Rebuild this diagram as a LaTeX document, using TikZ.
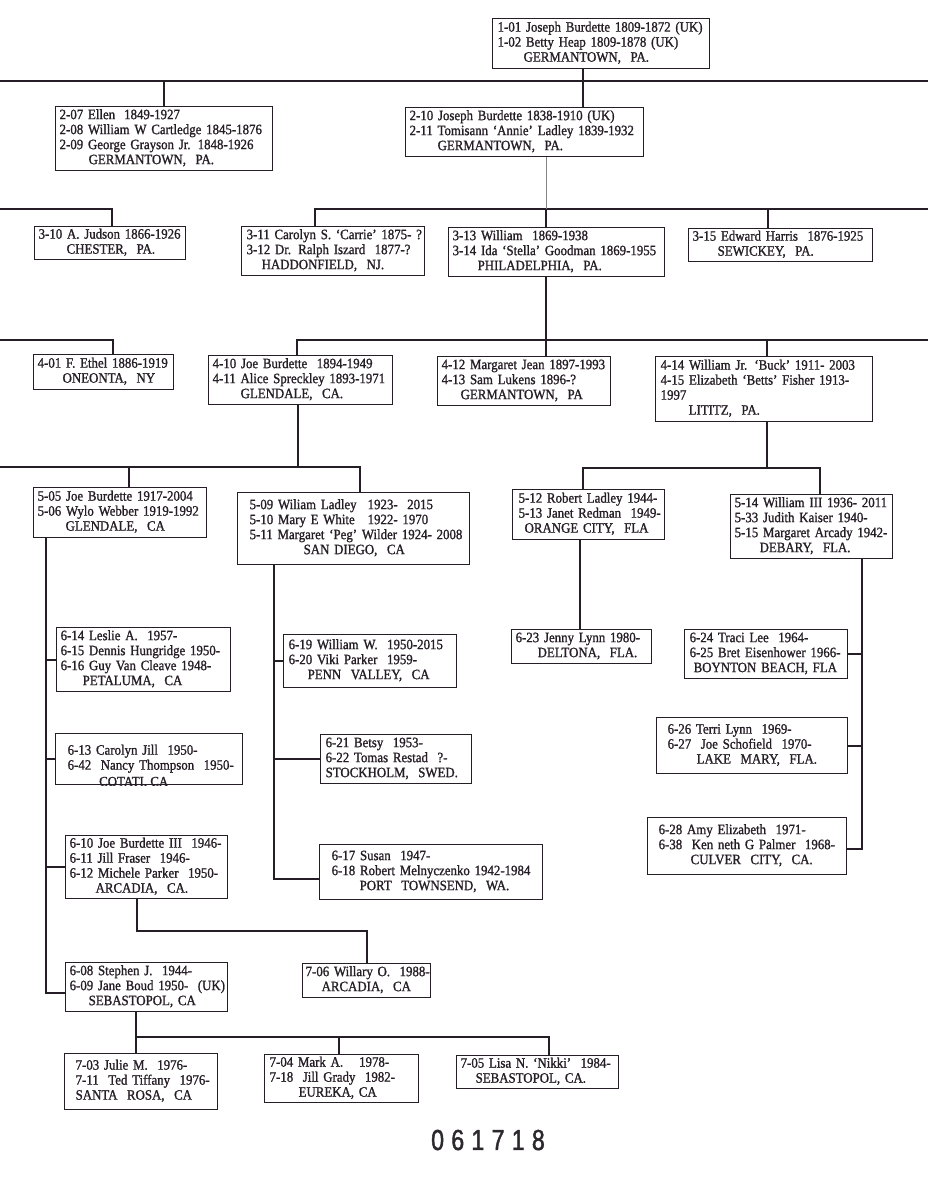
\documentclass[tikz,border=0pt]{standalone}
\usepackage{fontspec}
\setmainfont{Liberation Serif}[FakeStretch=0.9,FakeBold=1.2]
\newfontfamily\stampfont{Liberation Sans}[FakeStretch=0.8,LetterSpace=25,FakeBold=1.5]
\usepackage{xcolor}
\definecolor{ink}{RGB}{38,30,38}
\definecolor{stampink}{RGB}{45,40,45}
\newcommand{\kinrows}[1]{\begin{tabular}{@{}l@{}}#1\end{tabular}}
\tikzset{
  kin/.style 2 args={draw=ink, line width=1.3pt, anchor=north west, align=left,
    inner xsep=4pt, inner ysep=0pt, text width=#1, minimum height=#2,
    text=ink, font=\fontsize{14.3}{15}\selectfont},
  link/.style={draw=ink, line width=1.7pt},
  stamp/.style={text=stampink, font=\stampfont\fontsize{29}{29}\selectfont, inner sep=0pt},
}

\begin{document}
\begin{tikzpicture}[x=1pt, y=-1pt]
    \useasboundingbox (0,0) rectangle (928,1200);

    \node [kin={207pt}{50pt}, inner xsep=5pt] (p101) at (492,18)
      {\kinrows{1-01 Joseph Burdette 1809-1872 (UK)\\ 1-02 Betty Heap 1809-1878 (UK)\\ \hspace*{26pt}GERMANTOWN,~ PA.}};
    \node [kin={209pt}{64pt}] (p207) at (55,106)
      {\kinrows{2-07 Ellen\hspace{9pt}1849-1927\\ 2-08 William W Cartledge 1845-1876\\ 2-09 George Grayson Jr. 1848-1926\\ \hspace*{29pt}GERMANTOWN,~ PA.}};
    \node [kin={230pt}{49pt}] (p210) at (405,107)
      {\kinrows{2-10 Joseph Burdette 1838-1910 (UK)\\ 2-11 Tomisann `Annie' Ladley 1839-1932\\ \hspace*{28pt}GERMANTOWN,~ PA.}};

    \node [kin={143pt}{33pt}] (p310) at (34,226)
      {\kinrows{3-10 A. Judson 1866-1926\\ \hspace*{28pt}CHESTER,~ PA.}};
    \node [kin={173pt}{49pt}, inner xsep=5pt] (p311) at (241,226)
      {\kinrows{3-11 Carolyn S. `Carrie' 1875- ?\\ 3-12 Dr. Ralph Iszard~ 1877-?\\ \hspace*{15pt}HADDONFIELD,~ NJ.}};
    \node [kin={208pt}{49pt}] (p313) at (448,227)
      {\kinrows{3-13 William~ 1869-1938\\ 3-14 Ida `Stella' Goodman 1869-1955\\ \hspace*{25pt}PHILADELPHIA,~ PA.}};
    \node [kin={176pt}{33pt}] (p315) at (688,228)
      {\kinrows{3-15 Edward Harris~ 1876-1925\\ \hspace*{25pt}SEWICKEY,~ PA.}};

    \node [kin={132pt}{35pt}] (p401) at (33,354)
      {\kinrows{4-01 F. Ethel 1886-1919\\ \hspace*{25pt}ONEONTA,~ NY}};
    \node [kin={176pt}{49pt}] (p410) at (208,355)
      {\kinrows{4-10 Joe Burdette~ 1894-1949\\ 4-11 Alice Spreckley 1893-1971\\ \hspace*{28pt}GLENDALE,~ CA.}};
    \node [kin={165pt}{49pt}] (p412) at (437,356)
      {\kinrows{4-12 Margaret Jean 1897-1993\\ 4-13 Sam Lukens 1896-?\\ \hspace*{19pt}GERMANTOWN,~ PA}};
    \node [kin={207pt}{65pt}, inner xsep=5pt] (p414) at (655,356)
      {\kinrows{4-14 William Jr. `Buck' 1911- 2003\\ 4-15 Elizabeth `Betts' Fisher 1913-\\ 1997\\ \hspace*{28pt}LITITZ,~ PA.}};

    \node [kin={165pt}{50pt}] (p505) at (33,487)
      {\kinrows{5-05 Joe Burdette 1917-2004\\ 5-06 Wylo Webber 1919-1992\\ \hspace*{28pt}GLENDALE,~ CA}};
    \node [kin={208pt}{72pt}, inner xsep=12pt] (p509) at (237,492)
      {\kinrows{\makebox[118pt][l]{5-09 Wiliam Ladley}1923-~ 2015\\ \makebox[118pt][l]{5-10 Mary E White}1922- 1970\\ 5-11 Margaret `Peg' Wilder 1924- 2008\\ \hspace*{54pt}SAN DIEGO,~ CA}};
    \node [kin={140pt}{50pt}, inner xsep=6pt] (p512) at (512,489)
      {\kinrows{5-12 Robert Ladley 1944-\\ 5-13 Janet Redman~ 1949-\\ \hspace*{6pt}ORANGE CITY,~ FLA}};
    \node [kin={154pt}{64pt}] (p514) at (730,494)
      {\kinrows{5-14 William III 1936- 2011\\ 5-33 Judith Kaiser 1940-\\ 5-15 Margaret Arcady 1942-\\ \hspace*{25pt}DEBARY,~ FLA.}};

    \node [kin={166pt}{64pt}] (p614) at (56,627)
      {\kinrows{6-14 Leslie A.~ 1957-\\ 6-15 Dennis Hungridge 1950-\\ 6-16 Guy Van Cleave 1948-\\ \hspace*{22pt}PETALUMA,~ CA}};
    \node [kin={163pt}{51pt}, inner xsep=12pt] (p613) at (55,733)
      {\kinrows{6-13 Carolyn Jill~ 1950-\\ 6-42~ Nancy Thompson~ 1950-}};
    \begin{scope}
      \clip (p613.south west) rectangle (p613.north east);
      \node [anchor=base west, inner sep=0pt, text=ink, font=\fontsize{14.3}{15}\selectfont] (cotati)
        at ([shift={(44pt,-1pt)}]p613.south west) {COTATI, CA};
    \end{scope}
    \node [kin={154pt}{63pt}] (p610) at (65,835)
      {\kinrows{6-10 Joe Burdette III~ 1946-\\ 6-11 Jill Fraser~ 1946-\\ 6-12 Michele Parker~ 1950-\\ \hspace*{26pt}ARCADIA,~ CA.}};
    \node [kin={163pt}{53pt}, inner xsep=5pt] (p619) at (283,634)
      {\kinrows{6-19 William W.~ 1950-2015\\ 6-20 Viki Parker~ 1959-\\ \hspace*{19pt}PENN~ VALLEY,~ CA}};
    \node [kin={141pt}{49pt}, inner xsep=5pt] (p621) at (320,734)
      {\kinrows{6-21 Betsy~ 1953-\\ 6-22 Tomas Restad~ ?-\\ STOCKHOLM,~ SWED.}};
    \node [kin={199pt}{55pt}, inner xsep=12pt] (p617) at (319,844)
      {\kinrows{6-17 Susan~ 1947-\\ 6-18 Robert Melnyczenko 1942-1984\\ \hspace*{28pt}PORT~ TOWNSEND,~ WA.}};
    \node [kin={132pt}{34pt}] (p623) at (511,629)
      {\kinrows{6-23 Jenny Lynn 1980-\\ \hspace*{22pt}DELTONA,~ FLA.}};
    \node [kin={153pt}{49pt}, inner xsep=5pt] (p624) at (684,629)
      {\kinrows{6-24 Traci Lee~ 1964-\\ 6-25 Bret Eisenhower 1966-\\ \hspace*{4pt}BOYNTON BEACH, FLA}};
    \node [kin={169pt}{56pt}, inner xsep=11pt] (p626) at (656,717)
      {\kinrows{6-26 Terri Lynn~ 1969-\\ 6-27~ Joe Schofield~ 1970-\\ \hspace*{29pt}LAKE~ MARY,~ FLA.}};
    \node [kin={177pt}{57pt}, inner xsep=11pt] (p628) at (647,817)
      {\kinrows{6-28 Amy Elizabeth~ 1971-\\ 6-38~ Ken neth G Palmer~ 1968-\\ \hspace*{32pt}CULVER~ CITY,~ CA.}};

    \node [kin={154pt}{49pt}] (p608) at (65,962)
      {\kinrows{6-08 Stephen J.~ 1944-\\ 6-09 Jane Boud 1950-~ (UK)\\ \hspace*{19pt}SEBASTOPOL, CA}};
    \node [kin={122pt}{34pt}, inner xsep=3pt] (p706) at (302,963)
      {\kinrows{7-06 Willary O.~ 1988-\\ \hspace*{16pt}ARCADIA,~ CA}};
    \node [kin={131pt}{56pt}, inner xsep=11pt] (p703) at (64,1053)
      {\kinrows{7-03 Julie M.~ 1976-\\ 7-11~ Ted Tiffany~ 1976-\\ SANTA~ ROSA,~ CA}};
    \node [kin={144pt}{48pt}, inner xsep=5pt] (p704) at (264,1054)
      {\kinrows{7-04 Mark A.\hspace{16pt}1978-\\ 7-18~ Jill Grady~ 1982-\\ \hspace*{29pt}EUREKA, CA}};
    \node [kin={154pt}{33pt}] (p705) at (456,1055)
      {\kinrows{7-05 Lisa N. `Nikki'~ 1984-\\ \hspace*{15pt}SEBASTOPOL, CA.}};

    \node [stamp] (tag) at (488,1140) {061718};

    \coordinate (g1w) at (0,81);
    \coordinate (g1e) at (928,81);
    \coordinate (d101) at (583,81);
    \draw [link] (g1w) -- (g1e);
    \draw [link] (p101.south -| d101) -- (d101) -- (p210.north -| d101);
    \draw [link] (p207.north |- g1w) -- (p207.north);

    \coordinate (g2a) at (0,209);
    \coordinate (g2b) at (112,209);
    \coordinate (g2c) at (315,209);
    \coordinate (g2d) at (928,209);
    \coordinate (d210) at (546,209);
    \coordinate (d315) at (768,209);
    \draw [link] (g2a) -- (g2b) -- (p310.north -| g2b);
    \draw [link] (p311.north -| g2c) -- (g2c) -- (g2d);
    \draw [ink!55, line width=0.7pt] (p210.south -| d210) -- (d210);
    \draw [link] (d210) -- (p313.north -| d210);
    \draw [link] (d315) -- (p315.north -| d315);

    \coordinate (g3a) at (0,340);
    \coordinate (g3b) at (113,340);
    \coordinate (g3c) at (297,340);
    \coordinate (g3d) at (928,340);
    \coordinate (d313) at (546,340);
    \coordinate (d414) at (767,340);
    \draw [link] (g3a) -- (g3b) -- (p401.north -| g3b);
    \draw [link] (p410.north -| g3c) -- (g3c) -- (g3d);
    \draw [link] (p313.south -| d313) -- (p412.north -| d313);
    \draw [link] (d414) -- (p414.north -| d414);

    \coordinate (g4a) at (0,467);
    \coordinate (g4b) at (360,467);
    \coordinate (d410) at (298,467);
    \coordinate (d505) at (129,467);
    \draw [link] (g4a) -- (g4b) -- (p509.north -| g4b);
    \draw [link] (p410.south -| d410) -- (d410);
    \draw [link] (d505) -- (p505.north -| d505);
    \coordinate (g4c) at (583,468);
    \coordinate (g4d) at (820,468);
    \coordinate (d414b) at (767,468);
    \draw [link] (p512.north -| g4c) -- (g4c) -- (g4d) -- (p514.north -| g4d);
    \draw [link] (p414.south -| d414b) -- (d414b);

    \coordinate (t505) at (46,993);
    \draw [link] (p505.south -| t505) -- (t505) -- (p608.west |- t505);
    \draw [link] (p614.west -| t505) -- (p614.west);
    \draw [link] (p613.west -| t505) -- (p613.west);
    \draw [link] (p610.west -| t505) -- (p610.west);

    \coordinate (t509) at (274,879);
    \draw [link] (p509.south -| t509) -- (t509) -- (p617.west |- t509);
    \draw [link] (p619.west -| t509) -- (p619.west);
    \draw [link] (p621.west -| t509) -- (p621.west);

    \coordinate (d512) at (580,600);
    \draw [link] (p512.south -| d512) -- (p623.north -| d512);

    \coordinate (t514) at (862,849);
    \draw [link] (p514.south -| t514) -- (t514) -- (p628.east |- t514);
    \draw [link] (p624.east) -- (p624.east -| t514);
    \draw [link] (p626.east) -- (p626.east -| t514);

    \coordinate (d610) at (137,931);
    \draw [link] (p610.south -| d610) -- (d610) -- (p706.north |- d610) -- (p706.north);

    \coordinate (d608) at (136,1037);
    \coordinate (d704) at (339,1037);
    \coordinate (d705) at (549,1037);
    \draw [link] (p608.south -| d608) -- (p703.north -| d608);
    \draw [link] (d608) -- (d705) -- (p705.north -| d705);
    \draw [link] (d704) -- (p704.north -| d704);
\end{tikzpicture}
\end{document}
